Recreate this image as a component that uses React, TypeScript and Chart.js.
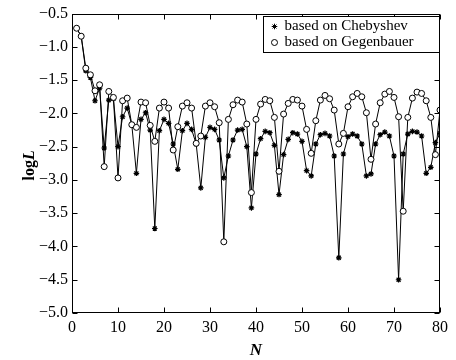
import React, { useEffect, useRef } from 'react';
import { Chart, registerables } from 'chart.js';

Chart.register(...registerables);

// ---- data ----
const nValues: number[] = Array.from({ length: 80 }, (_, i) => i + 1);

const chebyshev: number[] = [
  -0.72, -0.84, -1.36, -1.46, -1.81, -1.62, -2.52, -1.80, -1.78, -2.50,
  -2.05, -1.92, -2.17, -2.90, -2.09, -1.99, -2.25, -3.73, -2.26, -2.09,
  -2.15, -2.46, -2.84, -2.26, -2.15, -2.24, -2.46, -3.12, -2.36, -2.21,
  -2.24, -2.40, -2.97, -2.64, -2.40, -2.25, -2.24, -2.50, -3.42, -2.61,
  -2.38, -2.27, -2.29, -2.48, -3.22, -2.62, -2.39, -2.29, -2.31, -2.42,
  -2.86, -2.94, -2.46, -2.32, -2.30, -2.34, -2.64, -4.17, -2.61, -2.35,
  -2.31, -2.34, -2.46, -2.94, -2.91, -2.46, -2.32, -2.28, -2.34, -2.64,
  -4.50, -2.61, -2.31, -2.27, -2.28, -2.34, -2.90, -2.81, -2.44, -2.30,
];

const gegenbauer: number[] = [
  -0.72, -0.84, -1.32, -1.42, -1.66, -1.57, -2.80, -1.67, -1.76, -2.97,
  -1.81, -1.77, -2.17, -2.21, -1.83, -1.84, -2.18, -2.42, -1.92, -1.83,
  -1.92, -2.55, -2.20, -1.89, -1.84, -1.92, -2.45, -2.34, -1.89, -1.84,
  -1.90, -2.14, -3.93, -2.09, -1.87, -1.80, -1.83, -2.16, -3.19, -2.09,
  -1.86, -1.79, -1.81, -2.06, -2.87, -2.01, -1.85, -1.79, -1.80, -1.89,
  -2.24, -2.60, -2.11, -1.80, -1.73, -1.78, -1.95, -2.46, -2.30, -1.90,
  -1.75, -1.70, -1.75, -1.99, -2.69, -2.16, -1.84, -1.71, -1.67, -1.76,
  -2.05, -3.47, -2.06, -1.77, -1.68, -1.70, -1.81, -2.06, -2.62, -1.95,
];

const xTickValues: number[] = [0, 10, 20, 30, 40, 50, 60, 70, 80];
const yTickValues: number[] = [-5.0, -4.5, -4.0, -3.5, -3.0, -2.5, -2.0, -1.5, -1.0, -0.5];
const seriesLabels: string[] = ['based on Chebyshev', 'based on Gegenbauer'];
const xTitle = 'N';
const yTitleMain = 'log';
const yTitleItalic = 'L';

const FONT = "'Liberation Serif', 'Times New Roman', serif";

const framePlugin = {
  id: 'frameAndDecor',
  afterDraw(chart: any) {
    const { ctx, chartArea: a, scales } = chart;
    const L = Math.round(a.left) + 0.5;
    const R = Math.round(a.right) - 0.5;
    const T = Math.round(a.top) + 0.5;
    const B = Math.round(a.bottom) - 0.5;
    ctx.save();
    ctx.strokeStyle = '#000';
    ctx.lineWidth = 1;
    ctx.strokeRect(L, T, R - L, B - T);
    const tl = 5;
    ctx.beginPath();
    xTickValues.forEach((v) => {
      const p = Math.round(scales.x.getPixelForValue(v)) + 0.5;
      ctx.moveTo(p, B); ctx.lineTo(p, B - tl);
      ctx.moveTo(p, T); ctx.lineTo(p, T + tl);
    });
    yTickValues.forEach((v) => {
      const p = Math.round(scales.y.getPixelForValue(v)) + 0.5;
      ctx.moveTo(L, p); ctx.lineTo(L + tl, p);
      ctx.moveTo(R, p); ctx.lineTo(R - tl, p);
    });
    ctx.stroke();

    // legend box
    const bw = 176, bh = 36;
    const bx = Math.round(a.right) - bw - 0.5;
    const by = Math.round(a.top) + 2.5;
    ctx.fillStyle = '#fff';
    ctx.fillRect(bx, by, bw, bh);
    ctx.strokeRect(bx, by, bw, bh);
    ctx.font = `15px ${FONT}`;
    ctx.fillStyle = '#000';
    ctx.textBaseline = 'middle';
    ctx.textAlign = 'left';
    const rows = [by + 10, by + 26];
    // star marker
    const sx = bx + 11;
    ctx.beginPath();
    const r = 2.8;
    for (let k = 0; k < 4; k++) {
      const ang = (k * Math.PI) / 4;
      ctx.moveTo(sx - r * Math.cos(ang), rows[0] - r * Math.sin(ang));
      ctx.lineTo(sx + r * Math.cos(ang), rows[0] + r * Math.sin(ang));
    }
    ctx.stroke();
    ctx.beginPath();
    ctx.arc(sx, rows[1], 3, 0, Math.PI * 2);
    ctx.stroke();
    ctx.fillText(seriesLabels[0], bx + 21, rows[0]);
    ctx.fillText(seriesLabels[1], bx + 21, rows[1]);

    // x title
    ctx.font = `italic bold 17px ${FONT}`;
    ctx.textAlign = 'center';
    ctx.fillText(xTitle, (a.left + a.right) / 2, 351);

    // y title, rotated
    ctx.translate(30, (a.top + a.bottom) / 2 + 2);
    ctx.rotate(-Math.PI / 2);
    ctx.font = `bold 16px ${FONT}`;
    const w1 = ctx.measureText(yTitleMain).width;
    ctx.font = `italic bold 16px ${FONT}`;
    const w2 = ctx.measureText(yTitleItalic).width;
    const start = -(w1 + w2) / 2;
    ctx.textAlign = 'left';
    ctx.font = `bold 16px ${FONT}`;
    ctx.fillText(yTitleMain, start, 0);
    ctx.font = `italic bold 16px ${FONT}`;
    ctx.fillText(yTitleItalic, start + w1, 0);
    ctx.restore();
  },
};

export default function App() {
  const ref = useRef<HTMLCanvasElement | null>(null);
  useEffect(() => {
    if (!ref.current) return;
    const chart = new Chart(ref.current, {
      type: 'line',
      data: {
        datasets: [
          {
            label: seriesLabels[1],
            data: nValues.map((n, i) => ({ x: n, y: gegenbauer[i] })),
            borderColor: '#000',
            borderWidth: 1,
            pointStyle: 'circle',
            pointRadius: 3,
            pointBackgroundColor: '#fff',
            pointBorderColor: '#000',
            pointBorderWidth: 1,
            tension: 0,
          },
          {
            label: seriesLabels[0],
            data: nValues.map((n, i) => ({ x: n, y: chebyshev[i] })),
            borderColor: '#000',
            borderWidth: 1,
            pointStyle: 'star',
            pointRadius: 2.8,
            pointBackgroundColor: '#000',
            pointBorderColor: '#000',
            pointBorderWidth: 1.2,
            tension: 0,
          },
        ],
      },
      options: {
        animation: false,
        responsive: false,
        maintainAspectRatio: false,
        layout: { padding: { left: 0, right: 16, top: 13, bottom: 0 } },
        plugins: { legend: { display: false }, tooltip: { enabled: false } },
        scales: {
          x: {
            type: 'linear',
            min: 0,
            max: 80,
            grid: { display: false, drawTicks: false },
            border: { display: false },
            ticks: {
              stepSize: 10,
              padding: 5,
              color: '#000',
              font: { family: FONT, size: 16 },
              maxRotation: 0,
            },
            afterFit: (s: any) => { s.height = 47; },
          },
          y: {
            type: 'linear',
            min: -5,
            max: -0.5,
            grid: { display: false, drawTicks: false },
            border: { display: false },
            ticks: {
              stepSize: 0.5,
              padding: 4,
              color: '#000',
              font: { family: FONT, size: 16 },
              callback: (v: any) => Number(v).toFixed(1).replace('-', '\u2212'),
            },
            afterFit: (s: any) => { s.width = 72; },
          },
        },
      },
      plugins: [framePlugin],
    });
    return () => chart.destroy();
  }, []);
  return (
    <div style={{ position: 'fixed', left: 0, top: 0, width: 456, height: 360, background: '#fff' }}>
      <canvas ref={ref} width={456} height={360} style={{ display: 'block' }} />
    </div>
  );
}
